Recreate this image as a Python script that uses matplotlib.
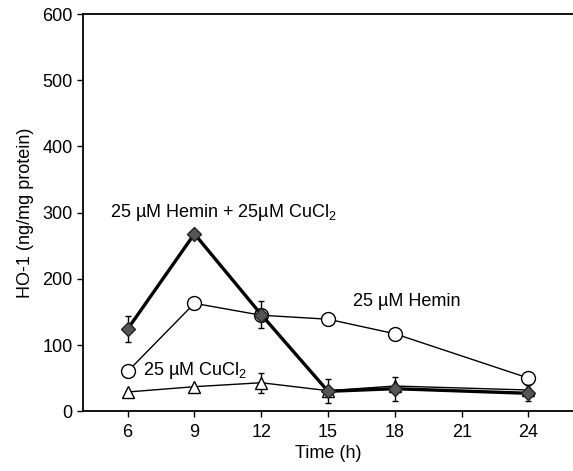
import matplotlib
matplotlib.use("Agg")
import matplotlib.pyplot as plt

# time points (h)
hours = [6, 9, 12, 15, 18, 24]

# HO-1 (ng/mg protein)
hemin_cucl2 = [124, 268, 146, 30, 34, 27]
hemin_cucl2_err = [20, 0, 21, 18, 18, 12]
hemin = [60, 163, 145, 139, 117, 50]
cucl2 = [29, 37, 43, 31, 38, 32]
cucl2_err = [0, 0, 15, 0, 0, 0]

xticks = [6, 9, 12, 15, 18, 21, 24]
yticks = [0, 100, 200, 300, 400, 500, 600]

plt.rcParams['font.family'] = ['Liberation Sans', 'DejaVu Sans']
plt.rcParams['mathtext.fontset'] = 'custom'
plt.rcParams['mathtext.rm'] = 'Liberation Sans'

fig = plt.figure(figsize=(5.73, 4.71), dpi=100)
ax = fig.add_axes([0.145, 0.127, 0.855, 0.843])

# remove the right frame line, keep the rest
ax.spines["right"].set_visible(False)
for s in ["top", "left", "bottom"]:
    ax.spines[s].set_linewidth(1.3)

ax.errorbar(hours, cucl2, yerr=cucl2_err, color='black', lw=1.0,
            marker='^', ms=9, mfc='white', mec='black', mew=1.0,
            capsize=2.5, elinewidth=1.0, zorder=2)
ax.errorbar(hours, hemin, color='black', lw=1.0,
            marker='o', ms=10, mfc='white', mec='black', mew=1.0, zorder=3)
ax.errorbar(hours, hemin_cucl2, yerr=hemin_cucl2_err, color='black', lw=2.4,
            marker='D', ms=7.5, mfc='#555555', mec='#222222', mew=1.0,
            capsize=2.5, elinewidth=1.0, zorder=4)

ax.text(5.2, 300, r'25 µM Hemin + 25µM CuCl$_2$', fontsize=13, va='center')
ax.text(16.1, 165, '25 µM Hemin', fontsize=13, va='center')
ax.text(6.7, 62, r'25 µM CuCl$_2$', fontsize=13, va='center')

ax.set_xlim(4, 26)
ax.set_ylim(0, 600)
ax.set_xticks(xticks)
ax.set_yticks(yticks)
ax.tick_params(direction='out', labelsize=13, length=4, width=1.0)
ax.tick_params(axis='x', pad=5)

ax.set_xlabel('Time (h)', fontsize=13, labelpad=3)
ax.set_ylabel('HO-1 (ng/mg protein)', fontsize=13, labelpad=6)

fig.savefig('out.png', dpi=100)
